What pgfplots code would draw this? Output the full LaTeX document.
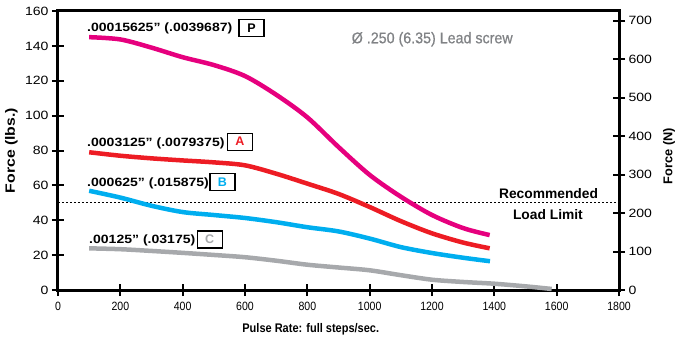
\documentclass[border=0pt]{standalone}
\usepackage{fontspec}
\setmainfont{Liberation Sans}
\newfontfamily\wideS[FakeStretch=1.17]{Liberation Sans}
\newfontfamily\narrowS[FakeStretch=0.88]{Liberation Sans}
\newfontfamily\titleS[FakeStretch=0.92,FakeBold=0.6]{Liberation Sans}
\usepackage{pgfplots}
\pgfplotsset{compat=1.18}
\definecolor{cP}{RGB}{230,0,126}
\definecolor{cA}{RGB}{237,28,36}
\definecolor{cB}{RGB}{0,174,239}
\definecolor{cC}{RGB}{167,169,172}
\definecolor{cT}{RGB}{128,130,133}
\begin{document}
\begin{tikzpicture}
\useasboundingbox (-58bp,-49bp) rectangle (620bp,290bp);
\begin{axis}[
 width=561bp, height=279bp, scale only axis,
 xmin=0, xmax=1800, ymin=0, ymax=160,
 xtick={0,200,...,1800}, ytick={0,20,...,160},
 xtick pos=bottom, ytick pos=left,
 tick align=center, major tick length=12bp,
 tick style={black, line width=2bp},
 axis line style={line width=3bp},
 clip=false,
 /pgf/number format/1000 sep={},
 /pgf/number format/assume math mode=true,
 xticklabel style={yshift=-3bp, font=\narrowS\fontsize{12bp}{13bp}\selectfont},
 yticklabel style={font=\wideS\fontsize{12bp}{13bp}\selectfont},
 ylabel={Force (lbs.)},
 ylabel style={at={(axis description cs:-0.083,0.5)}, anchor=center, rotate=0, font=\wideS\bfseries\fontsize{13.5bp}{14bp}\selectfont},
 xlabel={Pulse Rate: full steps/sec.},
 xlabel style={at={(axis cs:811,-24.3)}, anchor=base, font=\narrowS\bfseries\fontsize{12.5bp}{14bp}\selectfont},
]
\addplot[black, line width=1bp, dash pattern=on 2bp off 2bp] coordinates {(0,50) (1800,50)};
\addplot[cC, line width=4.5bp, smooth] coordinates {(100,23.9) (200,23.4) (300,22.4) (400,21.3) (500,20.1) (600,18.8) (700,16.8) (800,14.5) (900,12.9) (1000,11.3) (1100,8.5) (1200,5.9) (1300,4.6) (1400,3.6) (1500,2.1) (1584,0.6)};
\addplot[cB, line width=4.5bp, smooth] coordinates {(100,56.9) (200,53) (300,48.3) (400,44.7) (500,43) (600,41.3) (700,38.9) (800,36) (900,33.6) (1000,29.5) (1100,24.6) (1200,21.2) (1300,18.5) (1386,16.5)};
\addplot[cA, line width=4.5bp, smooth] coordinates {(100,79) (200,77) (300,75.5) (400,74.3) (500,73.2) (600,71.5) (700,66.7) (800,61) (900,55.1) (1000,47.6) (1100,39.5) (1200,32.5) (1300,27.2) (1385,23.9)};
\addplot[cP, line width=4.5bp, smooth] coordinates {(100,145) (200,143.7) (300,139) (400,133.5) (500,129) (600,122.7) (700,112) (800,99) (900,82) (1000,66) (1100,53.5) (1200,43) (1300,35.5) (1385,31.5)};
\node[anchor=base west, inner sep=0, font=\wideS\bfseries\fontsize{12bp}{14bp}\selectfont] at (axis cs:93,148.1) {.00015625” (.0039687)};
\node[anchor=base west, inner sep=0, font=\wideS\bfseries\fontsize{12bp}{14bp}\selectfont] at (axis cs:93,82.2) {.0003125” (.0079375)};
\node[anchor=base west, inner sep=0, font=\wideS\bfseries\fontsize{12bp}{14bp}\selectfont] at (axis cs:93,59.2) {.000625” (.015875)};
\node[anchor=base west, inner sep=0, font=\wideS\bfseries\fontsize{12bp}{14bp}\selectfont] at (axis cs:99.5,26.4) {.00125” (.03175)};
\node[draw=black, line width=1.2bp, minimum width=25bp, minimum height=17bp, inner sep=0, font=\bfseries\fontsize{12.5bp}{14bp}\selectfont] at (axis cs:620.8,150.4) {P};
\node[draw=black, line width=1.2bp, minimum width=25bp, minimum height=17bp, inner sep=0, text=cA, font=\bfseries\fontsize{12.5bp}{14bp}\selectfont] at (axis cs:583.9,85.1) {A};
\node[draw=black, line width=1.2bp, minimum width=25bp, minimum height=17bp, inner sep=0, text=cB, font=\bfseries\fontsize{12.5bp}{14bp}\selectfont] at (axis cs:527.8,62.1) {B};
\node[draw=black, line width=1.2bp, minimum width=25bp, minimum height=17bp, inner sep=0, text=cC, font=\bfseries\fontsize{12.5bp}{14bp}\selectfont] at (axis cs:486.7,29.0) {C};
\node[anchor=base west, inner sep=0, text=cT, font=\titleS\fontsize{15.5bp}{17bp}\selectfont] at (axis cs:942,141.5) {Ø .250 (6.35) Lead screw};
\node[anchor=base, inner sep=0, font=\bfseries\fontsize{13.8bp}{15bp}\selectfont] at (axis cs:1574,52.6) {Recommended};
\node[anchor=base, inner sep=0, font=\bfseries\fontsize{13.8bp}{15bp}\selectfont] at (axis cs:1572,40.5) {Load Limit};
\end{axis}
\begin{axis}[
 width=561bp, height=279bp, scale only axis,
 xmin=0, xmax=1800, ymin=0, ymax=725,
 axis x line=none, axis y line*=right,
 ytick={0,100,...,700},
 tick align=center, major tick length=12bp,
 tick style={black, line width=2bp},
 axis line style={line width=3bp},
 /pgf/number format/assume math mode=true,
 yticklabel style={font=\wideS\fontsize{12bp}{13bp}\selectfont},
 ylabel={Force (N)},
 ylabel style={at={(axis description cs:1.089,0.48)}, anchor=center, rotate=0, font=\bfseries\fontsize{12.8bp}{14bp}\selectfont},
]
\end{axis}
\end{tikzpicture}
\end{document}
